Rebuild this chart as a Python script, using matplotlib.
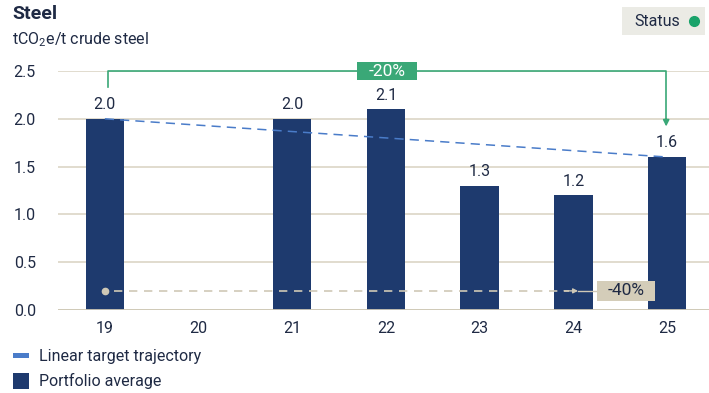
import matplotlib
matplotlib.use("Agg")
import matplotlib.pyplot as plt
from matplotlib.patches import Rectangle
from matplotlib.lines import Line2D
import numpy as np

plt.rcParams['font.family'] = ['Roboto', 'DejaVu Sans']
plt.rcParams['mathtext.fontset'] = 'custom'
plt.rcParams['mathtext.rm'] = 'Roboto'

# Data
years = ["19", "20", "21", "22", "23", "24", "25"]
portfolio = [2.0, None, 2.0, 2.1, 1.3, 1.2, 1.6]
target_start, target_end = 2.0, 1.6
reduction_label = "-20%"
goal_label = "-40%"
goal_level = 0.2
y_ticks = [0.0, 0.5, 1.0, 1.5, 2.0, 2.5]

NAVY = "#1e3a6e"
TEXT = "#1f2a44"
GRID = "#dcd6c6"
GREEN = "#3aa877"
BLUE = "#4a7cc9"
BEIGE = "#d4cdb9"

W, H = 709, 393
fig = plt.figure(figsize=(W / 100, H / 100), dpi=100)
ax = fig.add_axes([58 / W, 1 - 310 / H, (709 - 58) / W, (310 - 71) / H])

x = np.arange(len(years))
for xi, v in zip(x, portfolio):
    if v is None:
        continue
    ax.bar(xi, v, width=0.41, color=NAVY, zorder=3)
    ax.text(xi, v + 0.07, f"{v:.1f}", ha="center", va="bottom",
            fontsize=11.5, color=TEXT, zorder=5)

ax.set_xlim(-0.5, 6.447)
ax.set_ylim(0, 2.5)
ax.set_yticks(y_ticks)
ax.set_yticklabels([f"{t:.1f}" for t in y_ticks])
ax.set_xticks(x)
ax.set_xticklabels(years)
ax.tick_params(axis="both", length=0, labelsize=11.5, colors=TEXT)
ax.tick_params(axis="y", pad=16)
ax.tick_params(axis="x", pad=8)
for s in ax.spines.values():
    s.set_visible(False)
ax.grid(axis="y", color=GRID, linewidth=1.2, zorder=0)
ax.axhline(0, color="#cfc8b6", linewidth=2, zorder=4)

# Linear target trajectory
ax.plot([0, 6], [target_start, target_end], color=BLUE, linestyle=(0, (6, 4)),
        linewidth=1.1, zorder=4)

# -20% bracket from first to last year
yb = 2.5
ax.plot([0.03, 0.03, 5.99, 5.99], [2.33, yb, yb, 1.98], color=GREEN,
        linewidth=1.2, clip_on=False, zorder=4)
ax.annotate("", xy=(5.99, 1.92), xytext=(5.99, 2.0),
            arrowprops=dict(arrowstyle="-|>", color=GREEN, lw=1.2,
                            mutation_scale=9, shrinkA=0, shrinkB=0), zorder=4)
bw, bh = 0.64, 0.19
ax.add_patch(Rectangle((3.01 - bw / 2, yb - bh / 2), bw, bh, fc=GREEN,
                       ec="none", zorder=5, clip_on=False))
ax.text(3.01, yb, reduction_label, ha="center", va="center", fontsize=12.5,
        color="white", zorder=6, clip_on=False)

# -40% goal line
ax.plot([0], [goal_level], marker="o", color="#cfc8b6", markersize=4.5, zorder=5)
ax.plot([0.1, 4.95], [goal_level, goal_level], color="#cfc8b6",
        linestyle=(0, (5, 4)), linewidth=1.2, zorder=4)
ax.annotate("", xy=(5.05, goal_level), xytext=(4.9, goal_level),
            arrowprops=dict(arrowstyle="-|>", color="#cfc8b6", lw=1.0,
                            mutation_scale=7, shrinkA=0, shrinkB=0), zorder=4)
ax.plot([5.05, 5.3], [goal_level, goal_level], color="#cfc8b6",
        linewidth=1.0, zorder=4)
gw, gh = 0.62, 0.21
ax.add_patch(Rectangle((5.56 - gw / 2, goal_level - gh / 2), gw, gh, fc=BEIGE,
                       ec="none", zorder=5))
ax.text(5.56, goal_level, goal_label, ha="center", va="center", fontsize=12.5,
        color=TEXT, zorder=6)

# Title and unit
fig.text(12 / W, 1 - 14 / H, "Steel", fontsize=14, fontweight="bold",
         color=TEXT, va="center", ha="left")
fig.text(12 / W, 1 - 40 / H, "tCO$_2$e/t crude steel", fontsize=11.5,
         color=TEXT, va="center", ha="left")

# Status badge
fig.patches.append(Rectangle((622 / W, 1 - 35 / H), 83 / W, 28 / H,
                             transform=fig.transFigure, fc="#ebebe5", ec="none"))
fig.text(634 / W, 1 - 21 / H, "Status", fontsize=11.5, color=TEXT,
         va="center", ha="left")
fig.add_artist(Line2D([694 / W], [1 - 21 / H], marker="o", color="#1aa36a",
                      markersize=7, transform=fig.transFigure))

# Legend
fig.patches.append(Rectangle((13 / W, 1 - 358 / H), 16 / W, 5 / H,
                             transform=fig.transFigure, fc=BLUE, ec="none"))
fig.text(39 / W, 1 - 356 / H, "Linear target trajectory", fontsize=11.5,
         color=TEXT, va="center", ha="left")
fig.patches.append(Rectangle((13 / W, 1 - 389 / H), 16 / W, 16 / H,
                             transform=fig.transFigure, fc=NAVY, ec="none"))
fig.text(39 / W, 1 - 381 / H, "Portfolio average", fontsize=11.5,
         color=TEXT, va="center", ha="left")

fig.savefig("out.png", dpi=100)
